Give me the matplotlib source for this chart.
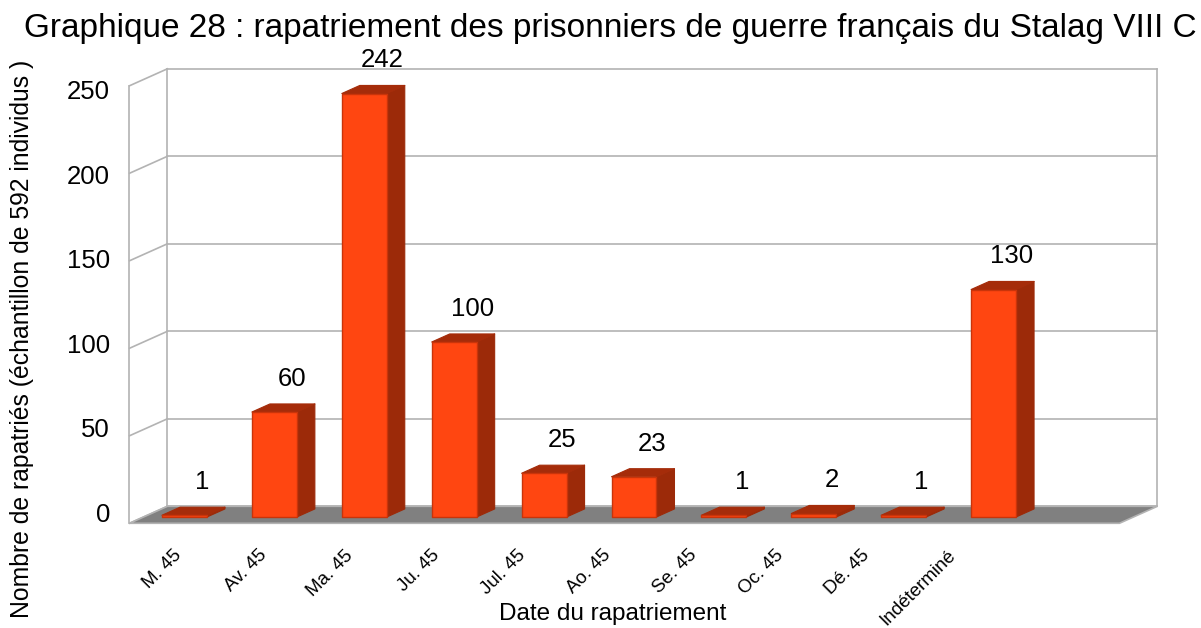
"""
Pseudo-3D bar chart: repatriation of French POWs from Stalag VIII C.
Drawn by hand on a single full-figure axes (LibreOffice-style 3D look).
"""
import matplotlib
matplotlib.use("Agg")
import matplotlib.pyplot as plt
from matplotlib.patches import Polygon

plt.rcParams["font.family"] = ["Liberation Sans", "DejaVu Sans"]

# ── data ───────────────────────────────────────────────────────────────────
CATEGORIES = ["M. 45", "Av. 45", "Ma. 45", "Ju. 45", "Jul. 45", "Ao. 45",
              "Se. 45", "Oc. 45", "Dé. 45", "Indéterminé"]
VALUES = [1, 60, 242, 100, 25, 23, 1, 2, 1, 130]
Y_TICKS = [0, 50, 100, 150, 200, 250]

TITLE = ("Graphique 28 : rapatriement des prisonniers de guerre "
         "français du Stalag VIII C")
X_LABEL = "Date du rapatriement"
Y_LABEL = "Nombre de rapatriés (échantillon de 592 individus )"

# ── style / geometry ───────────────────────────────────────────────────────
FRONT = "#ff4611"
FRONT_EDGE = "#c9340a"
SIDE = "#9c2a09"
TOP = "#a52c0a"
FLOOR = "#808080"
GRID = "#b3b3b3"
TEXT = "#000000"

BAR_W = 0.5           # category units
DX, DY = 0.2, 4.6     # one bar depth, in (category, value) units
FLOOR_FRONT, FLOOR_BACK = -0.78, 1.33   # in bar depths
X_MIN, X_MAX = -0.456, 10.556           # floor extent at the bar plane
Y_MAX = Y_TICKS[-1]

# pixel calibration of the bar plane (figure is 1201 x 628 px)
W_PX, H_PX = 1201, 628
X0_PX, XS_PX = 184.5, 89.9
Y0_PX, YS_PX = 517, 1.75

fig = plt.figure(figsize=(W_PX / 100, H_PX / 100), dpi=100)
fig.patch.set_facecolor("white")
ax = fig.add_axes([0, 0, 1, 1])
ax.set_xlim(-X0_PX / XS_PX, (W_PX - X0_PX) / XS_PX)
ax.set_ylim((Y0_PX - H_PX) / YS_PX, Y0_PX / YS_PX)
ax.axis("off")


def shift(x, y, d):
    return (x + d * DX, y + d * DY)


# back wall + gridlines
bx0, _ = shift(X_MIN, 0, FLOOR_BACK)
bx1, _ = shift(X_MAX, 0, FLOOR_BACK)
fx0, _ = shift(X_MIN, 0, FLOOR_FRONT)
for v in Y_TICKS:
    _, by = shift(0, v, FLOOR_BACK)
    _, fy = shift(0, v, FLOOR_FRONT)
    ax.plot([bx0, bx1], [by, by], color=GRID, lw=1.2, zorder=1)
    ax.plot([fx0, bx0], [fy, by], color=GRID, lw=1.2, zorder=1)

for d, x in [(FLOOR_BACK, X_MIN), (FLOOR_FRONT, X_MIN), (FLOOR_BACK, X_MAX)]:
    xa, ya = shift(x, 0, d)
    xb, yb = shift(x, Y_MAX, d)
    ax.plot([xa, xb], [ya, yb], color=GRID, lw=1.2, zorder=1)

# floor
floor = Polygon([shift(X_MIN, 0, FLOOR_FRONT), shift(X_MAX, 0, FLOOR_FRONT),
                 shift(X_MAX, 0, FLOOR_BACK), shift(X_MIN, 0, FLOOR_BACK)],
                closed=True, facecolor=FLOOR, edgecolor=GRID, lw=1.2, zorder=2)
ax.add_patch(floor)

# bars
for i, v in enumerate(VALUES):
    x0, x1 = i - BAR_W / 2, i + BAR_W / 2
    side = Polygon([(x1, 0), shift(x1, 0, 1), shift(x1, v, 1), (x1, v)],
                   closed=True, facecolor=SIDE, edgecolor=SIDE, lw=0.8,
                   zorder=3, joinstyle="round")
    top = Polygon([(x0, v), (x1, v), shift(x1, v, 1), shift(x0, v, 1)],
                  closed=True, facecolor=TOP, edgecolor=TOP, lw=0.8,
                  zorder=3, joinstyle="round")
    front = Polygon([(x0, 0), (x1, 0), (x1, v), (x0, v)],
                    closed=True, facecolor=FRONT, edgecolor=FRONT_EDGE,
                    lw=1.0, zorder=4, joinstyle="round")
    for p in (side, top, front):
        ax.add_patch(p)
    ax.annotate(str(v), xy=shift(i, v, 1), xytext=(0, 18),
                textcoords="offset points", ha="center", va="center",
                fontsize=18.5, color=TEXT, zorder=6)

# y tick labels (front plane, slight perspective)
for v in Y_TICKS:
    ax.text(-0.829, 1.14 + 0.966 * v, str(v), ha="right", va="center",
            fontsize=18.5, color=TEXT)

# category labels
for i, lab in enumerate(CATEGORIES):
    ax.text(0.957 * i, -17.0, lab, rotation=45, ha="right", va="top",
            fontsize=13.5, color=TEXT)

fig.text(0.508, 0.955, TITLE, ha="center", va="center", fontsize=24,
         color=TEXT)
fig.text(0.51, 0.022, X_LABEL, ha="center", va="center", fontsize=17.5,
         color=TEXT)
fig.text(0.018, 0.46, Y_LABEL, ha="center", va="center", rotation=90,
         fontsize=17.8, color=TEXT)

fig.savefig("out.png", dpi=100, facecolor="white")
